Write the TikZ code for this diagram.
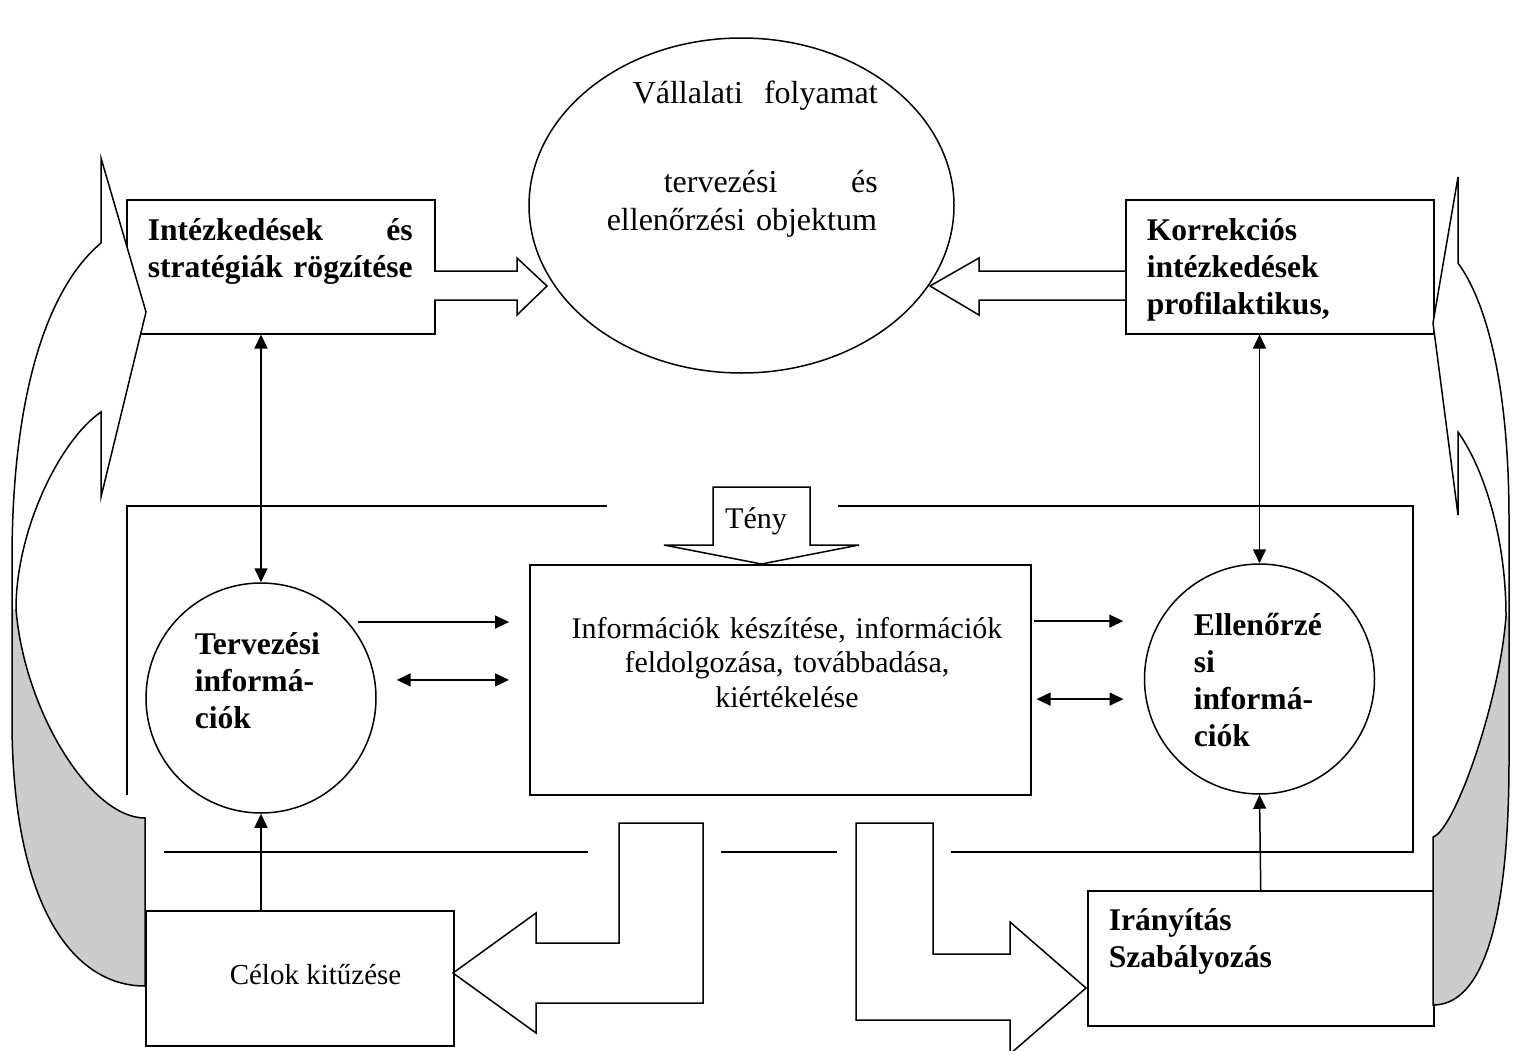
\documentclass[tikz,border=0pt]{standalone}
\usepackage{fontspec}
\setmainfont{Liberation Serif}[BoldFont={Liberation Serif Bold}]
\usetikzlibrary{arrows.meta,shapes.geometric}

\newcommand{\boldtext}{\fontsize{15.8}{18.5}\selectfont\bfseries}
\newcommand{\plaintext}{\fontsize{15}{17.25}\selectfont}

\begin{document}
\begin{tikzpicture}[x=0.5pt,y=-0.5pt,line width=0.75pt,
     box/.style = {draw, rectangle, fill=white, inner sep=0pt, anchor=north west},
     infocircle/.style = {draw, circle, fill=white, minimum size=115pt, inner sep=0pt},
     txt/.style = {inner sep=0pt, anchor=base west},
     arrow/.style = {draw, -{Triangle[length=7pt,width=6.5pt]}},
     dblarrow/.style = {draw, {Triangle[length=7pt,width=6.5pt]}-{Triangle[length=7pt,width=6.5pt]}},
     blockarrow/.style = {draw, fill=white, line join=miter},
     backside/.style = {fill=black!20}
    ]
    \useasboundingbox (0,0) rectangle (1516,1050);

    % frame round the information block
    \draw (607,506) -- (127,506) -- (127,795);
    \draw (838,506) -- (1413,506) -- (1413,852) -- (951,852);
    \draw (837,852) -- (721,852);
    \draw (588,852) -- (164,852);

    \node [draw, ellipse, minimum width=212.5pt, minimum height=167.5pt, inner sep=0pt] (object) at (741.5,205.5) {};
    \node [box, minimum width=154pt, minimum height=67pt] (intz) at (126,199) {};
    \node [box, minimum width=154pt, minimum height=67pt] (korr) at (1125,199) {};
    \node [box, minimum width=154pt, minimum height=67.5pt] (celok) at (145,910) {};
    \node [box, minimum width=173pt, minimum height=67.5pt] (iran) at (1087,890) {};
    \node [box, minimum width=250.5pt, minimum height=115pt] (proc) at (529,564) {};
    \node [infocircle] (tinfo) at (261,698) {};
    \node [infocircle] (eninfo) at (1259.5,679) {};

    % hollow arrows
    \draw [blockarrow] (434,271) -- (517,271) -- (517,258) -- (547,286) -- (517,315) -- (517,300) -- (434,300);
    \draw [blockarrow] (1125,271) -- (979,271) -- (979,258) -- (930,286) -- (979,315) -- (979,300) -- (1125,300);
    \draw [blockarrow] (713,487) -- (810,487) -- (810,545) -- (859,545) -- (761.5,564) -- (664,545) -- (713,545) -- cycle;
    \draw [blockarrow] (619,823) -- (703,823) -- (703,1003) -- (536,1003) -- (536,1033) -- (453,973) -- (536,913) -- (536,943) -- (619,943) -- cycle;
    \draw [blockarrow] (856,823) -- (933,823) -- (933,954) -- (1010,954) -- (1010,922) -- (1086,988) -- (1010,1054) -- (1010,1020) -- (856,1020) -- cycle;

    \draw [dblarrow] (tinfo.north |- intz.south) -- (tinfo.north);
    \draw [arrow] (tinfo.south |- celok.north) -- (tinfo.south);
    \draw [dblarrow] (eninfo.north |- korr.south) -- (eninfo.north);
    \draw [arrow] (iran.north) -- (eninfo.south);
    \draw [arrow, shorten <=4.6pt, shorten >=10pt] (tinfo.41) -- (tinfo.41 -| proc.west);
    \draw [dblarrow, shorten <=10.7pt, shorten >=10pt] (tinfo.9) -- (tinfo.9 -| proc.west);
    \draw [arrow, shorten <=1pt, shorten >=18pt] (eninfo.150 -| proc.east) -- (eninfo.150);
    \draw [dblarrow, shorten <=2.5pt, shorten >=11pt] (eninfo.190 -| proc.east) -- (eninfo.190);

    % curved arrows on both sides
    \fill [white] (145,986) .. controls (70,986) and (12,900) .. (12,720) -- (12,560) .. controls (12,400) and (45,290) .. (101,243) -- (101,158) -- (146,312) -- (101,497) -- (101,412) .. controls (60,440) and (16,530) .. (16,609) .. controls (24,710) and (90,818) .. (145,818) -- cycle;
    \fill [backside] (16,609) .. controls (24,710) and (90,818) .. (145,818) -- (145,986) .. controls (70,986) and (12,900) .. (12,720) -- (12,609) -- cycle;
    \draw (145,986) .. controls (70,986) and (12,900) .. (12,720) -- (12,560) .. controls (12,400) and (45,290) .. (101,243) -- (101,158) -- (146,312) -- (101,497) -- (101,412) .. controls (60,440) and (16,530) .. (16,609) .. controls (24,710) and (90,818) .. (145,818) -- cycle;
    \fill [white] (1433,1005) .. controls (1480,1005) and (1509,930) .. (1509,760) -- (1509,520) .. controls (1509,380) and (1485,300) .. (1458,263) -- (1458,177) -- (1433,323) -- (1458,515) -- (1458,432) .. controls (1485,470) and (1506,540) .. (1506,616) .. controls (1500,700) and (1455,830) .. (1433,837) -- cycle;
    \fill [backside] (1506,616) .. controls (1500,700) and (1455,830) .. (1433,837) -- (1433,1005) .. controls (1480,1005) and (1509,930) .. (1509,760) -- (1509,616) -- cycle;
    \draw (1433,1005) .. controls (1480,1005) and (1509,930) .. (1509,760) -- (1509,520) .. controls (1509,380) and (1485,300) .. (1458,263) -- (1458,177) -- (1433,323) -- (1458,515) -- (1458,432) .. controls (1485,470) and (1506,540) .. (1506,616) .. controls (1500,700) and (1455,830) .. (1433,837) -- cycle;

    % texts
    \node [txt, text width=135.5pt, font=\fontsize{16}{19}\selectfont] (objtext) at (606,103)
      {\hspace*{13pt}Vállalati\hfill folyamat\\[25.5pt]\hspace*{28.5pt}tervezési\hfill és\\ellenőrzési objektum};
    \node [txt, text width=132.5pt, font=\boldtext] (intztext) at (147,240) {Intézkedések\hfill és\\stratégiák rögzítése};
    \node [txt, text width=140pt, font=\boldtext] (korrtext) at (1146,240) {Korrekciós\\intézkedések\\profilaktikus,};
    \node [txt, text width=140pt, font=\boldtext] (tinfotext) at (194,654) {Tervezési\\informá-\\ciók};
    \node [txt, text width=140pt, font=\boldtext] (eninfotext) at (1193,635) {Ellenőrzé\\si\\informá-\\ciók};
    \node [txt, text width=160pt, font=\boldtext] (irantext) at (1108,930) {Irányítás\\Szabályozás};
    \node [txt, font=\fontsize{14.5}{17}\selectfont] (celoktext) at (229,984) {Célok kitűzése};
    \node [txt, anchor=base, font=\plaintext] (tenytext) at (756,528) {Tény};
    \node [txt, anchor=base, text width=300pt, align=center, font=\plaintext] (proctext) at (787,638)
      {Információk készítése, információk\\feldolgozása, továbbadása,\\kiértékelése};
\end{tikzpicture}
\end{document}
